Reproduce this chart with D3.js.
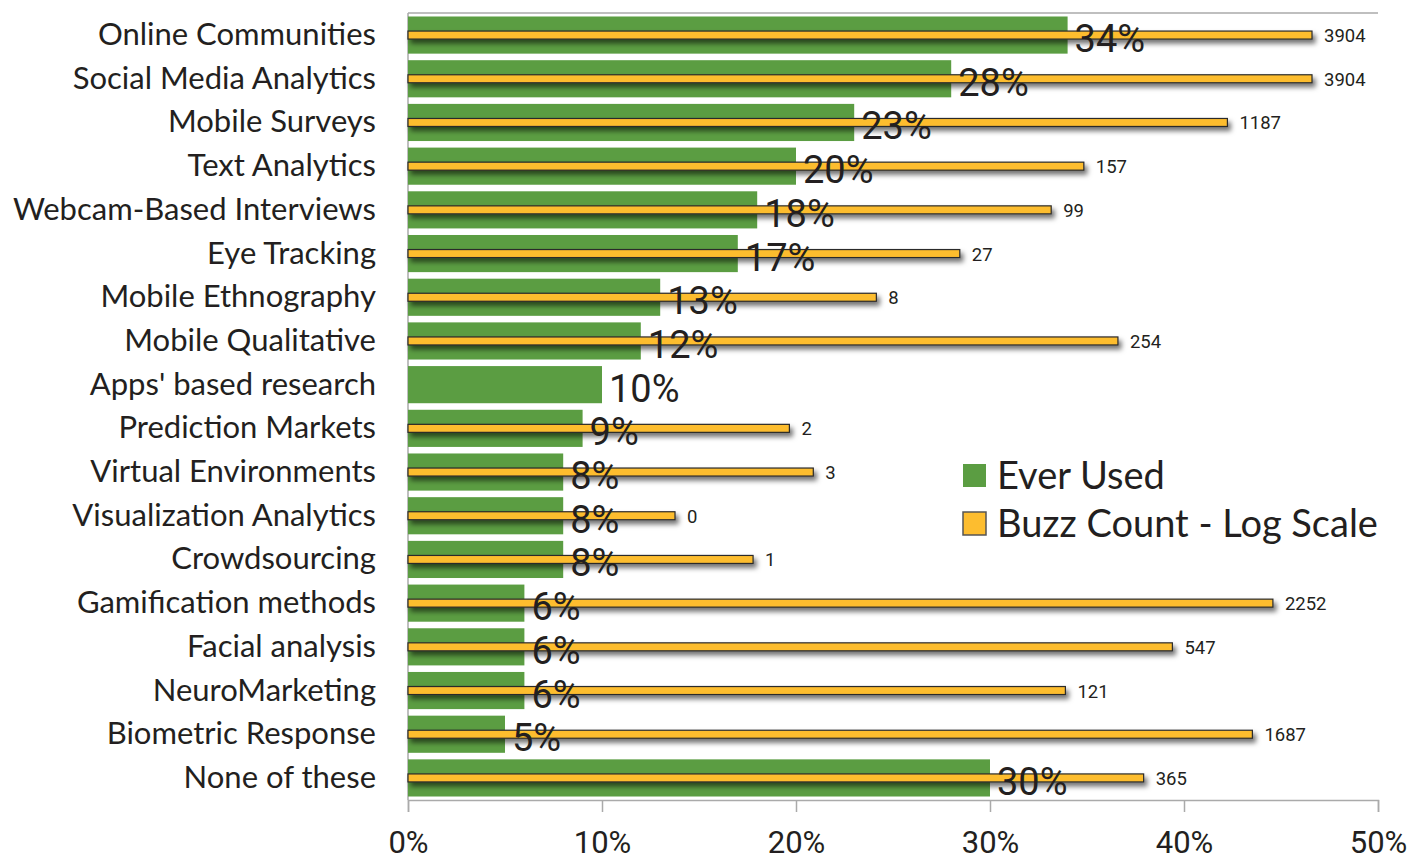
<!DOCTYPE html>
<html>
<head>
<meta charset="utf-8">
<script src="https://cdn.jsdelivr.net/npm/d3@7.9.0/dist/d3.min.js"></script>
<style>
  body { margin: 0; background: #fff; }
  svg text { fill: #231f20; }
  .cat { font-family: Lato, sans-serif; font-size: 31px; }
  .pct { font-family: Roboto, sans-serif; font-size: 38px; }
  .buzz { font-family: Roboto, sans-serif; font-size: 18.5px; }
  .tick-lbl { font-family: Roboto, sans-serif; font-size: 31px; }
  .leg { font-family: Lato, sans-serif; font-size: 38px; }
</style>
</head>
<body>
<svg width="1412" height="863"></svg>
<script>
const categories = ["Online Communities", "Social Media Analytics", "Mobile Surveys", "Text Analytics",
  "Webcam-Based Interviews", "Eye Tracking", "Mobile Ethnography", "Mobile Qualitative",
  "Apps' based research", "Prediction Markets", "Virtual Environments", "Visualization Analytics",
  "Crowdsourcing", "Gamification methods", "Facial analysis", "NeuroMarketing",
  "Biometric Response", "None of these"];
const everUsed = [34, 28, 23, 20, 18, 17, 13, 12, 10, 9, 8, 8, 8, 6, 6, 6, 5, 30];
const buzzCount = [3904, 3904, 1187, 157, 99, 27, 8, 254, null, 2, 3, 0, 1, 2252, 547, 121, 1687, 365];
const xTicks = [0, 10, 20, 30, 40, 50];

const green = "#5b9d42", orange = "#fdbd2f";
const svg = d3.select("svg");

const x = d3.scaleLinear().domain([0, 50]).range([408, 1378]);
// buzz counts are drawn on their own log-like axis
const xb = d3.scaleSymlog().constant(0.5).domain([0, 3904]).range([675, 1312]);
const y = d3.scaleBand().domain(categories).range([13, 800]).paddingInner(0.15).paddingOuter(0.08);

const defs = svg.append("defs");
const f = defs.append("filter").attr("id", "shadow").attr("x", "-5%").attr("y", "-100%").attr("width", "110%").attr("height", "400%");
f.append("feDropShadow").attr("dx", 3).attr("dy", 4).attr("stdDeviation", 2.5)
  .attr("flood-color", "#000").attr("flood-opacity", 0.55);

// frame
svg.append("line").attr("x1", x(0)).attr("x2", x(50)).attr("y1", 13).attr("y2", 13)
  .attr("stroke", "#aaa").attr("stroke-width", 1.5);
svg.append("line").attr("x1", x(0)).attr("x2", x(0)).attr("y1", 13).attr("y2", 800)
  .attr("stroke", "#aaa").attr("stroke-width", 1.5);

const axis = svg.append("g").attr("transform", "translate(0,800)")
  .call(d3.axisBottom(x).tickValues(xTicks).tickSize(12).tickFormat(d => d + "%"));
axis.select(".domain").attr("stroke", "#aaa").attr("stroke-width", 1.5);
axis.selectAll(".tick line").attr("stroke", "#aaa").attr("stroke-width", 1.5);
axis.selectAll(".tick text").attr("class", "tick-lbl").attr("y", 53).attr("dy", null)
  .attr("font-size", null).attr("font-family", null).attr("fill", "#231f20");

// green bars
svg.selectAll(".gbar").data(categories).enter().append("rect")
  .attr("x", x(0)).attr("y", d => y(d))
  .attr("width", (d, i) => x(everUsed[i]) - x(0)).attr("height", y.bandwidth())
  .attr("fill", green);

// orange buzz bars
const bh = 8;
const withBuzz = categories.filter((d, i) => buzzCount[i] != null);
svg.selectAll(".obar").data(withBuzz).enter().append("rect")
  .attr("x", x(0)).attr("y", d => y(d) + y.bandwidth() / 2 - bh / 2)
  .attr("width", d => xb(buzzCount[categories.indexOf(d)]) - x(0)).attr("height", bh)
  .attr("fill", orange).attr("stroke", "#2a2a2a").attr("stroke-width", 1.2)
  .attr("filter", "url(#shadow)");

svg.selectAll(".buzz").data(withBuzz).enter().append("text")
  .attr("class", "buzz")
  .attr("x", d => xb(buzzCount[categories.indexOf(d)]) + 12)
  .attr("y", d => y(d) + y.bandwidth() / 2 + 7)
  .text(d => buzzCount[categories.indexOf(d)]);

// percent labels
svg.selectAll(".pct").data(categories).enter().append("text")
  .attr("class", "pct")
  .attr("x", (d, i) => x(everUsed[i]) + 7)
  .attr("y", d => y(d) + y.bandwidth() / 2 + 17)
  .text((d, i) => everUsed[i] + "%");

// category labels
svg.selectAll(".cat").data(categories).enter().append("text")
  .attr("class", "cat")
  .attr("x", 376).attr("y", d => y(d) + y.bandwidth() / 2 + 10)
  .attr("text-anchor", "end")
  .text(d => d);

// legend
const legend = [{ label: "Ever Used", color: green, stroke: "none" },
                { label: "Buzz Count - Log Scale", color: orange, stroke: "#555" }];
const lg = svg.append("g").attr("transform", "translate(963,464)");
legend.forEach((d, i) => {
  lg.append("rect").attr("x", 0).attr("y", i * 48).attr("width", 23).attr("height", 23)
    .attr("fill", d.color).attr("stroke", d.stroke).attr("stroke-width", 1.5);
  lg.append("text").attr("class", "leg").attr("x", 34).attr("y", i * 48 + 25).text(d.label);
});
</script>
</body>
</html>
